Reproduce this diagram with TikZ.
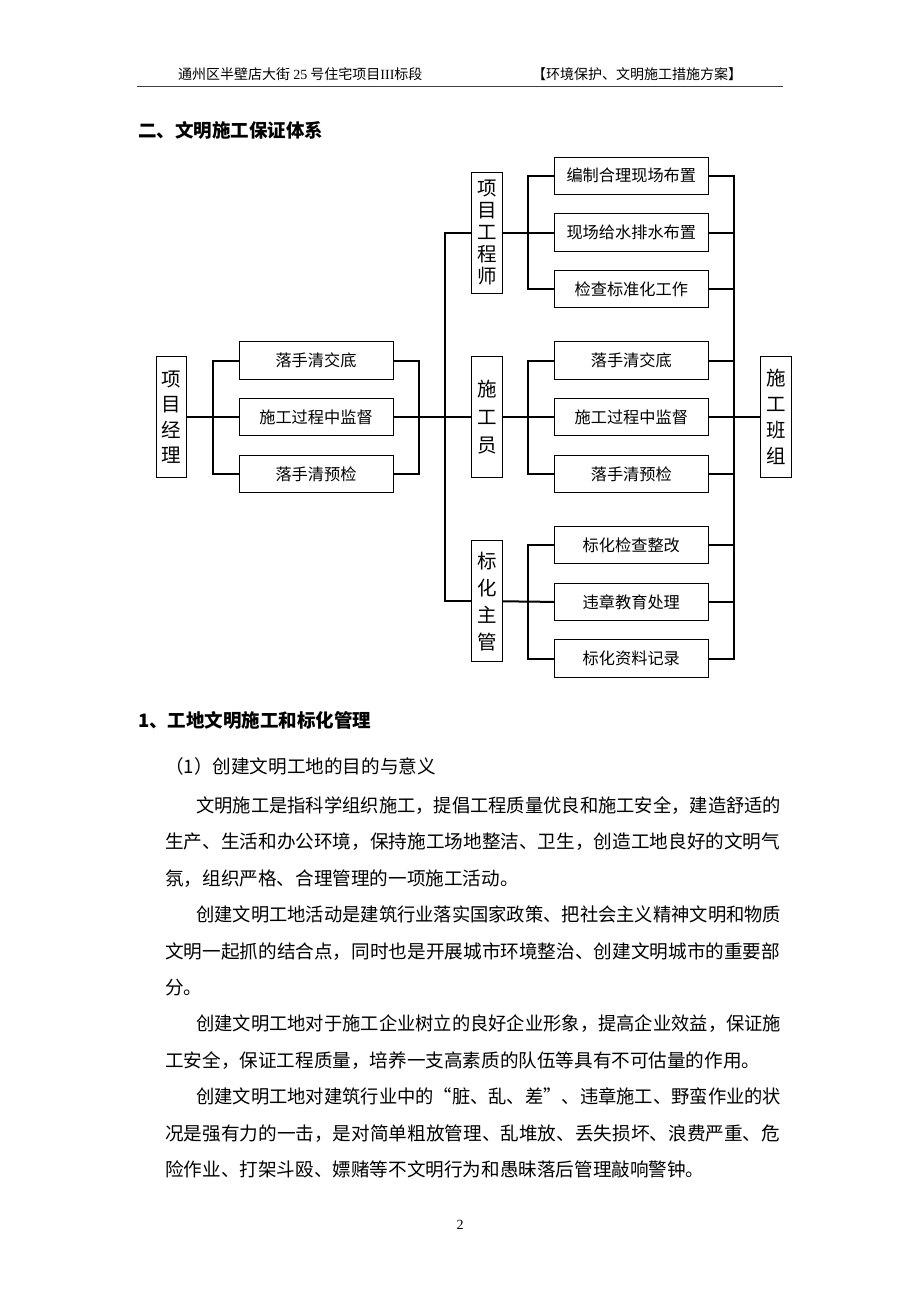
\documentclass[tikz,border=0pt]{standalone}
\usepackage{graphicx}
\usepackage{fontspec}
\setmainfont{Liberation Serif}
\newfontfamily\cjk{Noto Sans CJK SC}

\begin{document}
\begin{tikzpicture}[x=1pt, y=-1pt,
    box/.style={draw, line width=1pt, minimum width=154pt, minimum height=37.5pt, inner sep=0pt, font=\cjk\fontsize{16.2}{18}\selectfont},
    vbox/.style={draw, line width=1pt, minimum width=30.5pt, minimum height=121pt, inner sep=0pt, align=center, font=\cjk\fontsize{19.5}{25.5}\selectfont},
    conn/.style={line width=2pt},
    para/.style={anchor=west, inner sep=0pt, font=\cjk\fontsize{18.6}{20}\selectfont},
    heading/.style={anchor=west, inner sep=0pt, font=\cjk\bfseries\fontsize{18.5}{20}\selectfont}]

    % page
    \fill[white] (0,0) rectangle (920,1302);
    \useasboundingbox (0,0) rectangle (920,1302);

    % header
    \node[anchor=west, inner sep=0pt, font=\fontsize{14}{16}\selectfont] (hl) at (178,74) {\cjk 通州区半壁店大街 {\rmfamily 25} 号住宅项目{\rmfamily III}标段};
    \node[anchor=west, inner sep=0pt, font=\cjk\fontsize{14}{16}\selectfont] (hr) at (532,74) {【环境保护、文明施工措施方案】};
    \draw[line width=1.8pt, black!75] (137,86.5) -- (783,86.5);

    \node[heading] (h1) at (138,130.7) {二、文明施工保证体系};

    % left side
    \node[vbox] (pm) at (171.5,417.2) {项\\目\\经\\理};
    \node[box] (l1) at (316,360.5) {落手清交底};
    \node[box] (l2) at (316,417.2) {施工过程中监督};
    \node[box] (l3) at (316,473.9) {落手清预检};

    % middle column
    \node[vbox, font=\cjk\fontsize{19.5}{22}\selectfont] (m1) at (487,232.5) {项\\目\\工\\程\\师};
    \node[vbox, font=\cjk\fontsize{19.5}{28}\selectfont] (m2) at (487,417.2) {施\\工\\员};
    \node[vbox, font=\cjk\fontsize{19.5}{27}\selectfont] (m3) at (487,601.3) {标\\化\\主\\管};

    % right boxes
    \foreach \t [count=\i] in {编制合理现场布置, 现场给水排水布置, 检查标准化工作, 落手清交底, 施工过程中监督, 落手清预检, 标化检查整改, 违章教育处理, 标化资料记录}
        \node[box] (r\i) at (631.3, {175.8 + 56.7*(\i-1) + 14.6*int((\i-1)/3)}) {\t};

    \node[vbox, font=\cjk\fontsize{19.5}{26}\selectfont] (team) at (775.8,417.2) {施\\工\\班\\组};

    % bracket lines
    \coordinate (lb) at (212.7,0);
    \coordinate (rb) at (419.3,0);
    \coordinate (tk) at (445,0);
    \coordinate (gb) at (528.3,0);
    \coordinate (rt) at (734.3,0);

    \draw[conn] (pm.east) -- (l2.west);
    \draw[conn] (l1.west) -| (l3.west -| lb) -- (l3.west);
    \draw[conn] (l1.east) -| (l3.east -| rb) -- (l3.east);
    \draw[conn] (l2.east) -- (m2.west);
    \draw[conn] (m1.west) -| (m3.west -| tk) -- (m3.west);

    \foreach \g/\a/\b/\c in {1/1/2/3, 2/4/5/6, 3/7/8/9} {
        \draw[conn] (r\a.west) -| (r\c.west -| gb) -- (r\c.west);
        \draw[conn] (m\g.east) -- (r\b.west);
    }

    \draw[conn] (r1.east) -| (r9.east -| rt) -- (r9.east);
    \foreach \i in {2,...,8}
        \draw[conn] (r\i.east) -- (r\i.east -| rt);
    \draw[conn] (r5.east) -- (team.west);

    % text below
    \node[heading] (h2) at (138,720.7) {1、工地文明施工和标化管理};
    \node[para] (s1) at (165,766.7) {（1）创建文明工地的目的与意义};

    \node[para] (t1) at (196,805.5) {\resizebox{585pt}{\height}{文明施工是指科学组织施工，提倡工程质量优良和施工安全，建造舒适的}};
    \node[para] (t2) at (165,841.9) {\resizebox{615pt}{\height}{生产、生活和办公环境，保持施工场地整洁、卫生，创造工地良好的文明气}};
    \node[para] (t3) at (165,878.3) {氛，组织严格、合理管理的一项施工活动。};

    \node[para] (t4) at (196,914.7) {\resizebox{585pt}{\height}{创建文明工地活动是建筑行业落实国家政策、把社会主义精神文明和物质}};
    \node[para] (t5) at (165,951.1) {\resizebox{615pt}{\height}{文明一起抓的结合点，同时也是开展城市环境整治、创建文明城市的重要部}};
    \node[para] (t6) at (165,987.5) {分。};

    \node[para] (t7) at (196,1023.9) {\resizebox{585pt}{\height}{创建文明工地对于施工企业树立的良好企业形象，提高企业效益，保证施}};
    \node[para] (t8) at (165,1060.3) {工安全，保证工程质量，培养一支高素质的队伍等具有不可估量的作用。};

    \node[para] (t9) at (196,1096.7) {\resizebox{585pt}{\height}{创建文明工地对建筑行业中的“脏、乱、差”、违章施工、野蛮作业的状}};
    \node[para] (t10) at (165,1133.1) {\resizebox{615pt}{\height}{况是强有力的一击，是对简单粗放管理、乱堆放、丢失损坏、浪费严重、危}};
    \node[para] (t11) at (165,1169.5) {险作业、打架斗殴、嫖赌等不文明行为和愚昧落后管理敲响警钟。};

    % page number
    \node[font=\fontsize{14}{16}\selectfont] (pg) at (460,1225) {2};
\end{tikzpicture}
\end{document}
